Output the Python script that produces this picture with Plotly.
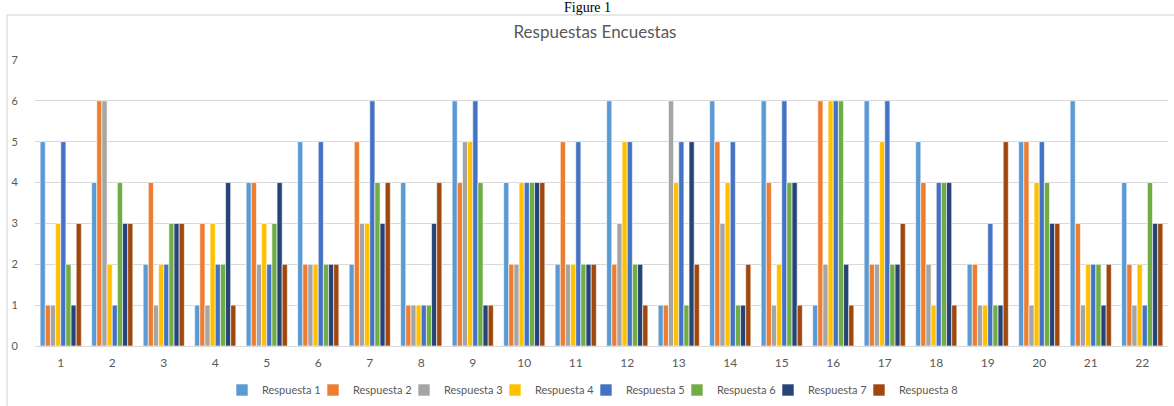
import plotly.graph_objects as go

categories = [str(i) for i in range(1, 23)]
series_names = ["Respuesta 1", "Respuesta 2", "Respuesta 3", "Respuesta 4",
                "Respuesta 5", "Respuesta 6", "Respuesta 7", "Respuesta 8"]

r1 = [5, 4, 2, 1, 4, 5, 2, 4, 6, 4, 2, 6, 1, 6, 6, 1, 6, 5, 2, 5, 6, 4]
r2 = [1, 6, 4, 3, 4, 2, 5, 1, 4, 2, 5, 2, 1, 5, 4, 6, 2, 4, 2, 5, 3, 2]
r3 = [1, 6, 1, 1, 2, 2, 3, 1, 5, 2, 2, 3, 6, 3, 1, 2, 2, 2, 1, 1, 1, 1]
r4 = [3, 2, 2, 3, 3, 2, 3, 1, 5, 4, 2, 5, 4, 4, 2, 6, 5, 1, 1, 4, 2, 2]
r5 = [5, 1, 2, 2, 2, 5, 6, 1, 6, 4, 5, 5, 5, 5, 6, 6, 6, 4, 3, 5, 2, 1]
r6 = [2, 4, 3, 2, 3, 2, 4, 1, 4, 4, 2, 2, 1, 1, 4, 6, 2, 4, 1, 4, 2, 4]
r7 = [1, 3, 3, 4, 4, 2, 3, 3, 1, 4, 2, 2, 5, 1, 4, 2, 2, 4, 1, 3, 1, 3]
r8 = [3, 3, 3, 1, 2, 2, 4, 4, 1, 4, 2, 1, 2, 2, 1, 1, 3, 1, 5, 3, 2, 3]

series_values = [r1, r2, r3, r4, r5, r6, r7, r8]
colors = ["#5B9BD5", "#ED7D31", "#A5A5A5", "#FFC000",
          "#4472C4", "#70AD47", "#264478", "#9E480E"]

FONT = "Lato"
GRAY = "#595959"
W, H = 1174, 406
L, R, T, B = 35, 6, 60, 60
PW, PH = W - L - R, H - T - B

fig = go.Figure()
for name, vals, col in zip(series_names, series_values, colors):
    fig.add_trace(go.Bar(
        x=categories, y=vals, name=name,
        marker=dict(color=col, line=dict(color="white", width=0.6)),
    ))

# transparent spacer entry so the last legend label is not clipped
fig.add_trace(go.Scatter(x=[None], y=[None], name=" ", mode="markers",
                         marker=dict(color="rgba(0,0,0,0)"), hoverinfo="skip"))

fig.update_layout(
    width=W, height=H,
    margin=dict(l=L, r=R, t=T, b=B, autoexpand=False),
    paper_bgcolor="white", plot_bgcolor="white",
    barmode="group", bargap=0.2, bargroupgap=0.0,
    font=dict(family=FONT, color=GRAY, size=11),
    title=dict(text="Respuestas Encuestas", x=595 / W, xanchor="center",
               y=1 - 32 / H, yanchor="middle",
               font=dict(family=FONT, size=17, color=GRAY)),
    showlegend=True,
    legend=dict(orientation="h", x=222 / W, xanchor="left", xref="container",
                y=1 - 390 / H, yanchor="middle", yref="container",
                font=dict(family=FONT, size=11, color=GRAY),
                itemwidth=30, entrywidth=46, entrywidthmode="pixels",
                traceorder="normal"),
    xaxis=dict(type="category", showgrid=False, showline=True,
               linecolor="#d9d9d9", linewidth=1, ticks="",
               ticklabelstandoff=6,
               tickfont=dict(family=FONT, size=12, color=GRAY)),
    yaxis=dict(range=[0, 7], dtick=1, showgrid=True, gridcolor="#d9d9d9",
               gridwidth=1, zeroline=False, showline=False, ticks="",
               ticklabelstandoff=16,
               tickfont=dict(family=FONT, size=11, color=GRAY)),
)

# Outer chart border
fig.add_shape(type="rect", xref="paper", yref="paper",
              x0=(7 - L) / PW, x1=(W + 5 - L) / PW,
              y0=-(H + 5 - (H - B)) / PH, y1=((H - B) - 15) / PH,
              line=dict(color="#d0d0d0", width=1), fillcolor="rgba(0,0,0,0)",
              layer="below")

# Caption at the top
fig.add_annotation(text="Figure 1", xref="paper", yref="paper",
                   x=(587 - L) / PW, y=((H - B) - 8) / PH,
                   xanchor="center", yanchor="middle", showarrow=False,
                   font=dict(family="Liberation Serif", size=14, color="black"))

fig.write_html("out.html", config={"displayModeBar": False},
               post_script="document.body.style.margin='0px';")
